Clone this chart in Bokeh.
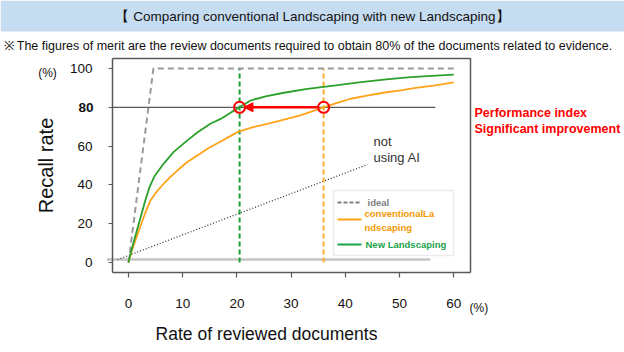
from bokeh.plotting import figure
from bokeh.models import Range1d, Label, BoxAnnotation, Arrow, NormalHead, FixedTicker
from bokeh.embed import file_html
from bokeh.resources import INLINE

# ---------------- data ----------------
new_x = [0, 0.7, 1.5, 2.3, 3.1, 3.9, 4.8, 6.5, 8.35, 10.8, 12.7, 15.1, 17, 19, 20.5,
         22.5, 25.5, 28.7, 33, 37.9, 42.5, 47.1, 52, 56, 60]
new_y = [0, 8, 16, 24, 32, 39, 44.5, 51, 57, 62.8, 67, 71.5, 74, 77.5, 80,
         83.5, 85.8, 87.5, 89.5, 91.2, 92.8, 94.3, 95.5, 96.2, 96.8]

conv_x = [0, 0.6, 1.6, 2.5, 3.3, 4.06, 5.2, 6.5, 7.8, 9, 10.8, 12.7, 14.8, 17, 18.7,
          20.3, 23, 25.6, 28.5, 31.7, 36, 38.5, 41, 44, 47, 50.2, 53, 56.3, 60]
conv_y = [0, 6, 14, 21, 27, 32, 36.5, 40.6, 44.3, 47.4, 51.7, 55.2, 59, 62.4, 65,
          67.5, 69.8, 71.5, 73.5, 75.8, 80, 82.3, 84.4, 86, 87.5, 88.7, 90, 91.2, 92.8]

ideal_x = [0, 4.6, 60]
ideal_y = [0, 100, 100]

noai_x = [-2, 44.1]
noai_y = [1.5, 50.5]

target_recall = 80
new_rate = 20.5
conv_rate = 36.0
ref_line_x = [-2.95, 56.6]
zero_line_x = [-4, 55.7]
zero_line_y = 1.5

x_ticks = [0, 10, 20, 30, 40, 50, 60]
y_ticks = [0, 20, 40, 60, 80, 100]

title_text = "【 Comparing conventional Landscaping with new Landscaping】"
subtitle_text = ("※ The figures of merit are the review documents required to obtain "
                 "80% of the documents related to evidence.")
x_title = "Rate of reviewed documents"
y_title = "Recall rate"

# ---------------- styling ----------------
FONT = "Liberation Sans"
GREEN = "#2ca02c"
ORANGE = "#ffa31a"
RED = "#ff0000"
GRAY = "#9a9a9a"
DARK = "#595959"
TXT = "#111111"

W, H = 624, 352
# plot-area box (canvas px) and its data extent
L, R, T, B = 112, 470, 58, 272
x0, x1 = -2.95, 63.1
y0, y1 = -5.15, 105.15
kx = (x1 - x0) / (R - L)
ky = (y1 - y0) / (B - T)

# the frame spans the whole canvas; axes are pinned to the plot-area box
p = figure(width=W, height=H, output_backend="svg", toolbar_location=None,
           x_range=Range1d(x0 - L * kx, x1 + (W - R) * kx),
           y_range=Range1d(y0 - (H - B) * ky, y1 + T * ky),
           min_border=0)
p.grid.visible = False
p.outline_line_color = None
p.background_fill_color = "white"
p.border_fill_color = "white"


def dx(px):
    return x0 + (px - L) * kx


def dy(py):
    return y0 + (B - py) * ky


def sx(px):
    return px


def sy(py):
    return H - py


# axes
for ax in (p.xaxis[0], p.yaxis[0]):
    ax.axis_line_color = DARK
    ax.axis_line_width = 1.5
    ax.major_tick_line_color = DARK
    ax.major_tick_line_width = 1.2
    ax.minor_tick_line_color = None
    ax.major_tick_in = 0
    ax.major_label_text_font = FONT
    ax.major_label_text_font_size = "13.5px"
    ax.major_label_text_color = TXT
    ax.axis_label_text_font = FONT
    ax.axis_label_text_font_style = "normal"
    ax.axis_label_text_color = TXT

p.xaxis.fixed_location = y0
p.yaxis.fixed_location = x0
p.xaxis.bounds = (x0, x1)
p.yaxis.bounds = (y0, y1)
p.xaxis.ticker = FixedTicker(ticks=x_ticks)
p.yaxis.ticker = FixedTicker(ticks=y_ticks)
p.xaxis.major_tick_out = 5
p.yaxis.major_tick_out = 4
p.xaxis.major_label_standoff = 21
p.yaxis.major_label_standoff = 16
p.yaxis.major_label_overrides = {80: ""}
p.yaxis.axis_label = y_title
p.yaxis.axis_label_text_font_size = "20px"
p.yaxis.axis_label_standoff = 10

# x-axis title (placed left of centre, as in the original)
p.add_layout(Label(x=sx(266), y=sy(333), x_units="screen", y_units="screen",
                   text=x_title, text_font=FONT, text_font_size="17.5px",
                   text_align="center", text_baseline="middle", text_color=TXT))

# plot-area box (top and right edges)
p.line([x0, x1, x1], [y1, y1, y0], line_color=DARK, line_width=1.5)

# header band
p.add_layout(BoxAnnotation(left=0, right=W, top=sy(0), bottom=sy(31),
                           left_units="screen", right_units="screen",
                           top_units="screen", bottom_units="screen",
                           fill_color="#c6dcf0", fill_alpha=1.0, line_color=None,
                           level="underlay"))
p.add_layout(Label(x=sx(W / 2), y=sy(16), x_units="screen", y_units="screen",
                   text=title_text, text_font=FONT, text_font_size="13.5px",
                   text_align="center", text_baseline="middle", text_color=TXT))
p.add_layout(Label(x=sx(3), y=sy(45), x_units="screen", y_units="screen",
                   text=subtitle_text, text_font=FONT, text_font_size="12.5px",
                   text_align="left", text_baseline="middle", text_color=TXT))

# unit labels
p.add_layout(Label(x=sx(47), y=sy(72), x_units="screen", y_units="screen",
                   text="(%)", text_font=FONT, text_font_size="12px",
                   text_align="center", text_baseline="middle", text_color=TXT))
p.add_layout(Label(x=sx(469), y=sy(307), x_units="screen", y_units="screen",
                   text="(%)", text_font=FONT, text_font_size="12px",
                   text_align="left", text_baseline="middle", text_color=TXT))
# bold 80 tick label
p.add_layout(Label(x=sx(93), y=sy(107), x_units="screen", y_units="screen",
                   text="80", text_font=FONT, text_font_size="13.5px", text_font_style="bold",
                   text_align="right", text_baseline="middle", text_color=TXT))

# zero line and 80% reference line
p.line(zero_line_x, [zero_line_y, zero_line_y], line_color="#c4c4c4", line_width=2.5)
p.line(ref_line_x, [target_recall, target_recall], line_color=DARK, line_width=1.3)

# not using AI
p.line(noai_x, noai_y, line_color="#333333", line_width=1.3, line_dash="1 2")
p.add_layout(Label(x=sx(373), y=sy(141), x_units="screen", y_units="screen",
                   text="not", text_font=FONT, text_font_size="13px",
                   text_align="left", text_baseline="middle", text_color="#333333"))
p.add_layout(Label(x=sx(373), y=sy(157), x_units="screen", y_units="screen",
                   text="using AI", text_font=FONT, text_font_size="13px",
                   text_align="left", text_baseline="middle", text_color="#333333"))

# vertical dashed markers
p.line([new_rate, new_rate], [0, 100], line_color="#1f9e35", line_width=2, line_dash="5 3")
p.line([conv_rate, conv_rate], [0, 100], line_color="#f9b02a", line_width=2, line_dash="5 3")

# curves
p.line(ideal_x, ideal_y, line_color=GRAY, line_width=2, line_dash="6 4")
p.line(conv_x, conv_y, line_color=ORANGE, line_width=1.8)
p.line(new_x, new_y, line_color=GREEN, line_width=1.8)

# arrow and circles
p.add_layout(Arrow(end=NormalHead(size=9, fill_color=RED, line_color=RED),
                   x_start=conv_rate - 1.0, y_start=target_recall,
                   x_end=new_rate + 0.8, y_end=target_recall,
                   line_color=RED, line_width=2.5))
p.scatter([new_rate, conv_rate], [target_recall, target_recall], marker="circle",
          size=11, fill_alpha=0, line_color=RED, line_width=2)

p.add_layout(Label(x=sx(474), y=sy(112), x_units="screen", y_units="screen",
                   text="Performance index", text_font=FONT, text_font_size="12.5px",
                   text_font_style="bold", text_align="left", text_baseline="middle",
                   text_color=RED))
p.add_layout(Label(x=sx(474), y=sy(128), x_units="screen", y_units="screen",
                   text="Significant improvement", text_font=FONT, text_font_size="12.5px",
                   text_font_style="bold", text_align="left", text_baseline="middle",
                   text_color=RED))

# manual legend
p.add_layout(BoxAnnotation(left=dx(333), right=dx(453), bottom=dy(255), top=dy(190),
                           fill_color="white", fill_alpha=1.0, line_color="#bdbdbd",
                           line_width=1.5, level="underlay"))
p.line([dx(337), dx(360)], [dy(202), dy(202)], line_color="#808080", line_width=2, line_dash="4 2")
p.line([dx(337), dx(361)], [dy(219), dy(219)], line_color=ORANGE, line_width=2)
p.line([dx(337), dx(361)], [dy(244), dy(244)], line_color="#1aa34a", line_width=2)
leg = [("ideal", 367, 202, "#808080"), ("conventionalLa", 364, 213, "#f39800"),
       ("ndscaping", 364, 227, "#f39800"), ("New Landscaping", 365, 244, "#1aa34a")]
for txt, lx, ly, col in leg:
    p.add_layout(Label(x=sx(lx), y=sy(ly), x_units="screen", y_units="screen",
                       text=txt, text_font=FONT, text_font_size="9.5px",
                       text_font_style="bold", text_align="left", text_baseline="middle",
                       text_color=col))

open("out.html", "w").write(file_html(p, INLINE))
